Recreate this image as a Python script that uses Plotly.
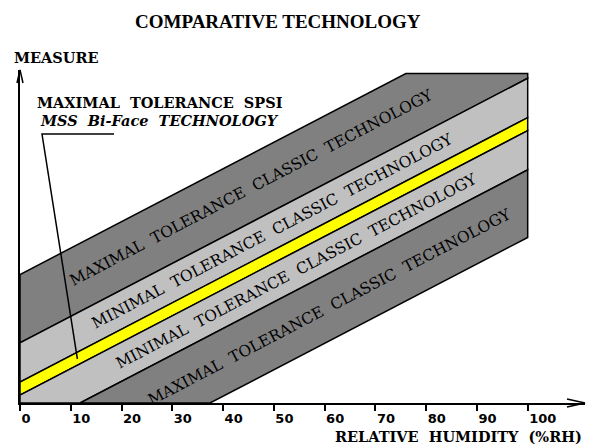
import math
import plotly.graph_objects as go

# ---------------- data ----------------
RH_TICKS = [0, 10, 20, 30, 40, 50, 60, 70, 80, 90, 100]
RH_MAX = 100
MEASURE_CAP = 64.9
# band boundary lines: measure = intercept + slope * RH
BOUNDARY_INTERCEPTS = [25.3, 11.86, 4.1, 1.54, -6.17, -19.5]
BOUNDARY_SLOPE = 0.521
BAND_NAMES = ["Maximal tolerance classic (upper)", "Minimal tolerance classic (upper)",
              "Maximal tolerance SPSI", "Minimal tolerance classic (lower)",
              "Maximal tolerance classic (lower)"]
BAND_LABELS = ["MAXIMAL TOLERANCE CLASSIC TECHNOLOGY",
               "MINIMAL TOLERANCE CLASSIC TECHNOLOGY",
               "",
               "MINIMAL TOLERANCE CLASSIC TECHNOLOGY",
               "MAXIMAL TOLERANCE CLASSIC TECHNOLOGY"]
BAND_LABEL_RH = [45.5, 49.8, None, 54.5, 61.0]
SPSI_POINTER_RH = 11.3
TITLE = "COMPARATIVE TECHNOLOGY"
Y_TITLE = "MEASURE"
X_TITLE = "RELATIVE HUMIDITY (%RH)"
NOTE_LINE1 = "MAXIMAL TOLERANCE SPSI"
NOTE_LINE2 = "MSS Bi-Face TECHNOLOGY"

# ---------------- styles / layout ----------------
BAND_COLORS = ["#808080", "#c0c0c0", "#ffff00", "#c0c0c0", "#808080"]
W, H = 599, 445
ML, MR, MT, MB = 20, 14, 70, 42
PX_PER_UNIT = 5.077
PW, PH = W - ML - MR, H - MT - MB
X_RANGE = [0, PW / PX_PER_UNIT]
Y_RANGE = [0, PH / PX_PER_UNIT]
SERIF = "DejaVu Serif"


def wide(s):
    return "\u00a0\u00a0".join(s.split(" "))


def px_x(px):
    return (px - ML) / PW


def px_y(py):
    return (H - MB - py) / PH


def clip(poly, xmin, xmax, ymin, ymax):
    def clip_edge(pts, inside, inter):
        out = []
        n = len(pts)
        for i in range(n):
            cur, prev = pts[i], pts[i - 1]
            if inside(cur):
                if not inside(prev):
                    out.append(inter(prev, cur))
                out.append(cur)
            elif inside(prev):
                out.append(inter(prev, cur))
        return out

    def ix(xc):
        return lambda p, q: (xc, p[1] + (q[1] - p[1]) * (xc - p[0]) / (q[0] - p[0]))

    def iy(yc):
        return lambda p, q: (p[0] + (q[0] - p[0]) * (yc - p[1]) / (q[1] - p[1]), yc)

    pts = poly
    pts = clip_edge(pts, lambda p: p[0] >= xmin, ix(xmin))
    pts = clip_edge(pts, lambda p: p[0] <= xmax, ix(xmax))
    pts = clip_edge(pts, lambda p: p[1] >= ymin, iy(ymin))
    pts = clip_edge(pts, lambda p: p[1] <= ymax, iy(ymax))
    return pts


def line_at(b, x):
    return b + BOUNDARY_SLOPE * x


fig = go.Figure()
for i, name in enumerate(BAND_NAMES):
    top, bot = BOUNDARY_INTERCEPTS[i], BOUNDARY_INTERCEPTS[i + 1]
    poly = [(0, bot), (RH_MAX, line_at(bot, RH_MAX)), (RH_MAX, line_at(top, RH_MAX)), (0, top)]
    pts = clip(poly, 0, RH_MAX, 0, MEASURE_CAP)
    xs = [p[0] for p in pts] + [pts[0][0]]
    ys = [p[1] for p in pts] + [pts[0][1]]
    fig.add_trace(go.Scatter(x=xs, y=ys, mode="lines", fill="toself",
                             fillcolor=BAND_COLORS[i], line=dict(color="black", width=1.5),
                             name=name, hoverinfo="name", showlegend=False))

angle = -math.degrees(math.atan(BOUNDARY_SLOPE))
annotations = []
for i, lab in enumerate(BAND_LABELS):
    if not lab:
        continue
    xr = BAND_LABEL_RH[i]
    mid = (BOUNDARY_INTERCEPTS[i] + BOUNDARY_INTERCEPTS[i + 1]) / 2
    annotations.append(dict(x=xr, y=line_at(mid, xr), xref="x", yref="y", text=wide(lab),
                            showarrow=False, textangle=angle,
                            font=dict(family=SERIF, size=15.5, color="black")))

annotations += [
    dict(x=px_x(277.5), y=px_y(21.5), xref="paper", yref="paper", text=TITLE, showarrow=False,
         xanchor="center", yanchor="middle",
         font=dict(family="Liberation Serif", size=19, color="black", weight="bold")),
    dict(x=px_x(12), y=px_y(58), xref="paper", yref="paper", text=Y_TITLE, showarrow=False,
         xanchor="left", yanchor="middle",
         font=dict(family=SERIF, size=14.5, color="black", weight="bold")),
    dict(x=px_x(584), y=px_y(436), xref="paper", yref="paper", text=wide(X_TITLE), showarrow=False,
         xanchor="right", yanchor="middle",
         font=dict(family=SERIF, size=14.5, color="black", weight="bold")),
    dict(x=px_x(35), y=px_y(102.5), xref="paper", yref="paper", text=wide(NOTE_LINE1), showarrow=False,
         xanchor="left", yanchor="middle",
         font=dict(family=SERIF, size=14.5, color="black", weight="bold")),
    dict(x=px_x(38), y=px_y(120.5), xref="paper", yref="paper", text=wide(NOTE_LINE2), showarrow=False,
         xanchor="left", yanchor="middle",
         font=dict(family=SERIF, size=14.5, color="black", weight="bold", style="italic")),
]

# leader line from note to the SPSI band
ymid_spsi = (BOUNDARY_INTERCEPTS[2] + BOUNDARY_INTERCEPTS[3]) / 2
corner_x, corner_y = px_x(42), px_y(134)
end_x = px_x(ML + SPSI_POINTER_RH * PX_PER_UNIT)
end_y = px_y(H - MB - line_at(ymid_spsi, SPSI_POINTER_RH) * PX_PER_UNIT)
shapes = [
    dict(type="path", xref="paper", yref="paper",
         path=f"M {px_x(114)} {corner_y} L {corner_x} {corner_y} L {end_x} {end_y}",
         line=dict(color="black", width=1.5), fillcolor="rgba(0,0,0,0)"),
    # axis arrowheads
    dict(type="path", xref="paper", yref="paper", xsizemode="pixel", ysizemode="pixel",
         xanchor=1, yanchor=0, path="M -18 4 L 0 0 L -18 -4",
         line=dict(color="black", width=1.5), fillcolor="rgba(0,0,0,0)"),
    dict(type="path", xref="paper", yref="paper", xsizemode="pixel", ysizemode="pixel",
         xanchor=0, yanchor=1, path="M -3 -13 L 0 0 L 3 -13",
         line=dict(color="black", width=1.5), fillcolor="rgba(0,0,0,0)"),
]

fig.update_layout(
    width=W, height=H, margin=dict(l=ML, r=MR, t=MT, b=MB, pad=0),
    paper_bgcolor="white", plot_bgcolor="white", showlegend=False,
    annotations=annotations, shapes=shapes,
    xaxis=dict(range=X_RANGE, showgrid=False, zeroline=False, showline=True,
               linecolor="black", linewidth=1.5, ticks="outside", ticklen=6, tickwidth=1.5,
               tickcolor="black", tickvals=RH_TICKS, ticktext=[str(v) for v in RH_TICKS],
               ticklabelposition="outside right", ticklabelstandoff=3,
               tickfont=dict(family="DejaVu Sans", size=13, color="black", weight="bold")),
    yaxis=dict(range=Y_RANGE, showgrid=False, zeroline=False, showline=True,
               linecolor="black", linewidth=1.5, showticklabels=False, ticks=""),
)

fig.write_html("out.html", config={"displayModeBar": False},
               post_script="document.body.style.margin='0';")
